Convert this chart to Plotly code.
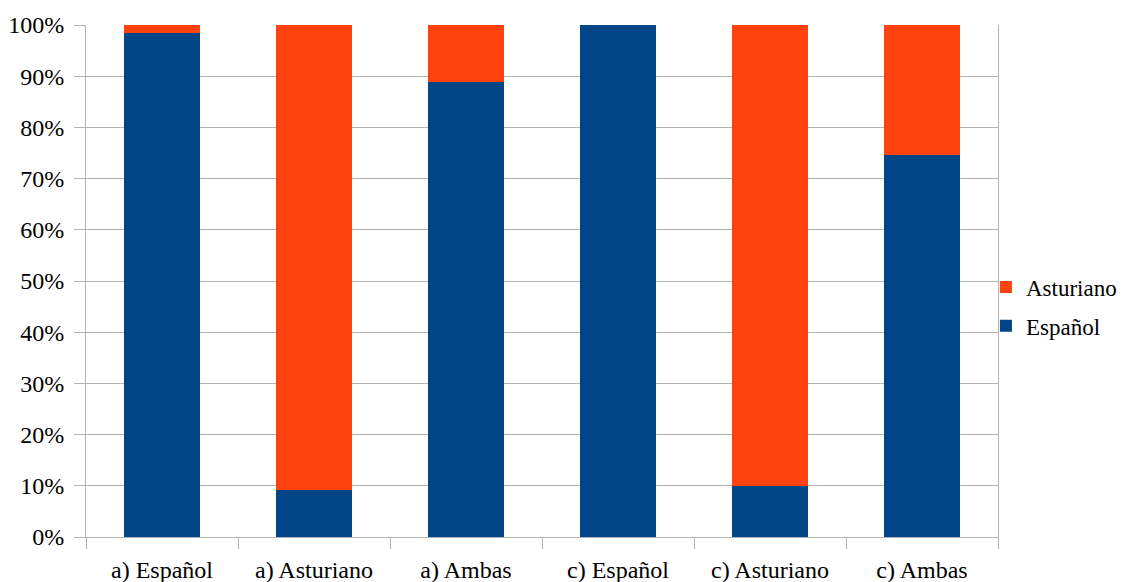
import plotly.graph_objects as go

categories = ["a) Español", "a) Asturiano", "a) Ambas", "c) Español", "c) Asturiano", "c) Ambas"]
espanol = [98.4, 9.2, 88.9, 100.0, 10.0, 74.6]
asturiano = [round(100 - v, 1) for v in espanol]

BLUE = "#004586"
ORANGE = "#ff420e"
GRID = "#b3b3b3"
FONT = "Liberation Serif, Times New Roman, serif"
FS = 24

fig = go.Figure()
fig.add_trace(go.Bar(x=categories, y=espanol, name="Español", legendgroup="e", legendrank=2,
                     marker=dict(color=BLUE, line=dict(width=0))))
fig.add_trace(go.Bar(x=categories, y=asturiano, name="Asturiano", legendgroup="a", legendrank=1,
                     marker=dict(color=ORANGE, line=dict(width=0))))

# page has an 8px body margin; figure is offset by it
fig.update_layout(
    width=1117, height=574,
    barmode="stack", bargap=0.5,
    plot_bgcolor="white", paper_bgcolor="white",
    margin=dict(l=78, r=127, t=17, b=45, autoexpand=False),
    font=dict(family=FONT, size=FS, color="black"),
    legend=dict(xref="container", yref="container",
                x=0.8755, y=0.48, xanchor="left", yanchor="middle",
                traceorder="grouped", tracegroupgap=6,
                font=dict(family=FONT, size=23, color="black"),
                itemwidth=30, bgcolor="rgba(0,0,0,0)"),
    showlegend=True,
)
fig.update_xaxes(
    type="category", tickson="boundaries", ticks="outside", ticklen=11,
    tickcolor=GRID, tickwidth=1, showline=True, linecolor=GRID, linewidth=1,
    showgrid=False, automargin=False, ticklabelstandoff=11,
    tickfont=dict(family=FONT, size=FS, color="black"),
)
fig.update_yaxes(
    range=[0, 100], dtick=10, ticksuffix="%", ticks="outside", ticklen=11,
    tickcolor=GRID, tickwidth=1, showline=True, mirror=True, linecolor=GRID,
    linewidth=1, showgrid=True, gridcolor=GRID, gridwidth=1, zeroline=False,
    automargin=False, ticklabelstandoff=5,
    tickfont=dict(family=FONT, size=FS, color="black"),
)

fig.write_html("out.html")
